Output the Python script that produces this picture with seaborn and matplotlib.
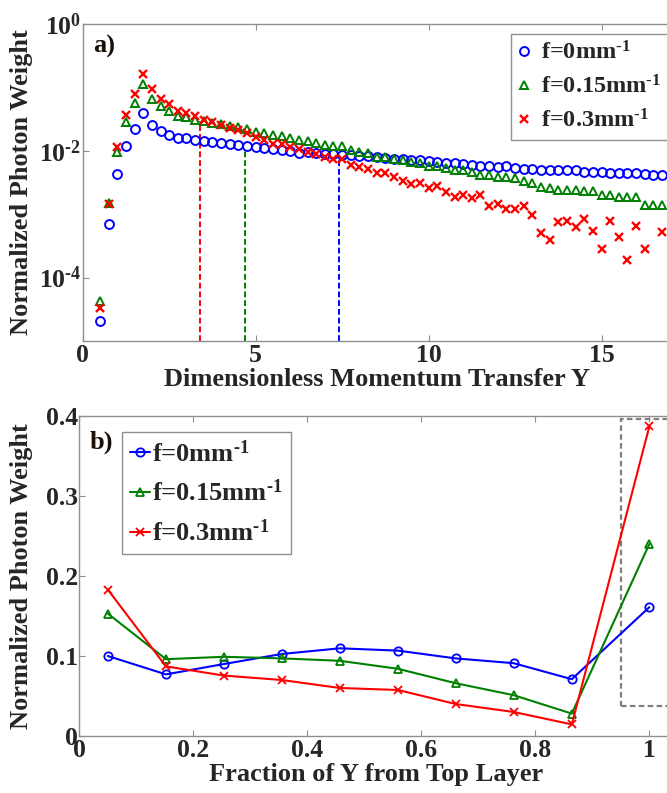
import numpy as np
import matplotlib
matplotlib.use("Agg")
import matplotlib.pyplot as plt
import matplotlib.ticker as mticker
from matplotlib.patches import Rectangle
import seaborn as sns

# ---------------- data ----------------
Y_a = [0.5, 0.75, 1.0, 1.25, 1.5, 1.75, 2.0, 2.25, 2.5, 2.75, 3.0, 3.25, 3.5, 3.75,
       4.0, 4.25, 4.5, 4.75, 5.0, 5.25, 5.5, 5.75, 6.0, 6.25, 6.5, 6.75, 7.0, 7.25,
       7.5, 7.75, 8.0, 8.25, 8.5, 8.75, 9.0, 9.25, 9.5, 9.75, 10.0, 10.25, 10.5, 10.75,
       11.0, 11.25, 11.5, 11.75, 12.0, 12.25, 12.5, 12.75, 13.0, 13.25, 13.5, 13.75,
       14.0, 14.25, 14.5, 14.75, 15.0, 15.25, 15.5, 15.75, 16.0, 16.25, 16.5, 16.75]

w_f0 = [2.1e-5, 7.1e-4, 4.3e-3, 0.012, 0.022, 0.040, 0.0255, 0.0205, 0.0178, 0.016,
        0.0158, 0.015, 0.0141, 0.0137, 0.0131, 0.0128, 0.0122, 0.012, 0.0114, 0.011,
        0.0108, 0.0103, 0.010, 0.0093, 0.0096, 0.0091, 0.0089,
        0.0089, 0.0087, 0.0086, 0.0084, 0.0082, 0.0080, 0.0077, 0.0075, 0.0073, 0.0071,
        0.0071, 0.0068, 0.0067, 0.0064, 0.0064, 0.0061, 0.0060, 0.0058, 0.0057, 0.0055,
        0.0057, 0.0054, 0.0052, 0.0052, 0.0050, 0.0049, 0.0049, 0.0049, 0.0049, 0.0047,
        0.0047, 0.0046, 0.0044, 0.0044, 0.0044, 0.0044, 0.0043, 0.0042, 0.0042]

w_f015 = [4.2e-5, 1.5e-3, 0.0097, 0.029, 0.057, 0.113, 0.066, 0.051, 0.043, 0.036,
          0.034, 0.031, 0.030, 0.027, 0.0265, 0.0246, 0.0235, 0.022, 0.020, 0.0194,
          0.0179, 0.017, 0.0159, 0.0148, 0.0141, 0.0132, 0.0125,
          0.0117, 0.0117, 0.0103, 0.0095, 0.0091, 0.0081, 0.0081, 0.0074, 0.0072, 0.0067,
          0.0065, 0.0058, 0.0058, 0.0054, 0.0050, 0.0049, 0.0047, 0.0042, 0.0041, 0.0039,
          0.0038, 0.0037, 0.0034, 0.0031, 0.0027, 0.0026, 0.0024, 0.0024, 0.0024, 0.0023,
          0.0023, 0.0020, 0.0020, 0.0019, 0.0019, 0.0019, 0.0014, 0.0014, 0.0014]

w_f03 = [3.3e-5, 1.45e-3, 0.0116, 0.037, 0.079, 0.163, 0.093, 0.066, 0.055, 0.043,
         0.039, 0.035, 0.031, 0.028, 0.0255, 0.023, 0.021, 0.019, 0.0167, 0.015,
         0.013, 0.013, 0.0116, 0.0105, 0.0097, 0.0089, 0.0081,
         0.0074, 0.0074, 0.0060, 0.0055, 0.0051, 0.0044, 0.0044, 0.0038, 0.0034, 0.0030,
         0.0031, 0.0026, 0.0028, 0.0022, 0.0019, 0.0020, 0.0018, 0.0020, 0.00135, 0.00145,
         0.0012, 0.0012, 0.00135, 0.00098, 0.00051, 0.00039, 0.00074, 0.00079, 0.00062,
         0.00083, 0.00055, 0.00028, 0.00079, 0.00043, 0.00019, 0.00065, 0.00028, np.nan,
         0.00053]

# mean momentum transfer markers (dashed lines) and the height they reach
mean_Y = [7.42, 4.69, 3.39]
mean_top = [0.0085, 0.0105, 0.030]

frac_b = [0.05, 0.152, 0.254, 0.355, 0.457, 0.559, 0.66, 0.762, 0.864, 1.0]
b_f0 = [0.100, 0.077, 0.090, 0.1025, 0.1096, 0.1067, 0.097, 0.091, 0.071, 0.161]
b_f015 = [0.153, 0.096, 0.099, 0.097, 0.094, 0.084, 0.066, 0.051, 0.028, 0.240]
b_f03 = [0.183, 0.087, 0.0755, 0.070, 0.060, 0.0575, 0.040, 0.030, 0.0145, 0.387]

labels = [r"f=0mm$^{\text{-}1}$", r"f=0.15mm$^{\text{-}1}$", r"f=0.3mm$^{\text{-}1}$"]
colors = ["#0000FF", "#008000", "#FF0000"]
markers = ["o", "^", "x"]

# ---------------- style ----------------
sns.set_style("ticks")
plt.rcParams["font.family"] = ["Liberation Serif", "DejaVu Serif"]
plt.rcParams["font.weight"] = "bold"
plt.rcParams["mathtext.fontset"] = "custom"
plt.rcParams["mathtext.rm"] = "Liberation Serif:bold"
plt.rcParams["mathtext.bf"] = "Liberation Serif:bold"
plt.rcParams["mathtext.it"] = "Liberation Serif:bold:italic"
plt.rcParams["mathtext.default"] = "bf"

SP = "#8f8f8f"
TICK_FS = 18.5
LAB_FS = 19
fig = plt.figure(figsize=(6.67, 7.93), dpi=100)
ax1 = fig.add_axes([0.124, 0.570, 0.8816, 0.3997])
ax2 = fig.add_axes([0.1189, 0.0719, 0.8888, 0.4035])

def style_axes(ax):
    for s in ax.spines.values():
        s.set_color(SP)
        s.set_linewidth(1.0)
    ax.spines["right"].set_visible(False)
    ax.tick_params(direction="in", top=True, right=False, length=4, width=0.8,
                   color=SP, labelsize=TICK_FS)
    ax.tick_params(axis="y", pad=1)
    ax.tick_params(axis="x", pad=2)
    for t in ax.get_xticklabels() + ax.get_yticklabels():
        t.set_fontweight("bold")

def log_fmt(v, p):
    e = int(round(np.log10(v)))
    if e < 0:
        return r"$10^{\text{-}%d}$" % (-e)
    return r"$10^{%d}$" % e

# ---------------- panel a ----------------
series_a = [w_f0, w_f015, w_f03]
for i in range(3):
    ax1.vlines(mean_Y[i], 1e-5, mean_top[i], colors=colors[i], linestyles=(0, (3, 1.5)),
               linewidth=1.4, zorder=1)
for i, w in enumerate(series_a):
    kw = dict(marker=markers[i], linestyle="none", markersize=6.4 if i < 2 else 5.5,
              markeredgewidth=1.4 if i < 2 else 1.7, color=colors[i],
              markeredgecolor=colors[i])
    if i < 2:
        kw["markerfacecolor"] = "none"
    sns.lineplot(x=Y_a, y=w, ax=ax1, estimator=None, label=labels[i], zorder=3, **kw)

ax1.set_yscale("log")
ax1.set_xlim(0, 17)
ax1.set_ylim(1e-5, 1)
ax1.set_yticks([1e-4, 1e-2, 1])
ax1.yaxis.set_minor_locator(mticker.NullLocator())
ax1.yaxis.set_major_formatter(mticker.FuncFormatter(log_fmt))
ax1.set_xticks([0, 5, 10, 15])
ax1.set_xlabel("Dimensionless Momentum Transfer Y", fontsize=LAB_FS, fontweight="bold",
               labelpad=1)
ax1.set_ylabel("Normalized Photon Weight", fontsize=LAB_FS, fontweight="bold")
ax1.yaxis.set_label_coords(-0.085, 0.5)
style_axes(ax1)
ax1.text(0.018, 0.965, "a)", transform=ax1.transAxes, fontsize=19, fontweight="bold",
         va="top", ha="left", color="#1a1208")
leg1 = ax1.legend(loc="upper right", bbox_to_anchor=(0.9965, 0.97), fontsize=17.5,
                  frameon=True, fancybox=False, edgecolor=SP, framealpha=1,
                  handlelength=0.5, handletextpad=0.45, labelspacing=0.45,
                  borderpad=0.3, borderaxespad=0.0)
leg1.get_frame().set_linewidth(1.0)

# ---------------- panel b ----------------
series_b = [b_f0, b_f015, b_f03]
for i, w in enumerate(series_b):
    kw = dict(marker=markers[i], markersize=6, markeredgewidth=1.3,
              color=colors[i], markeredgecolor=colors[i], linewidth=1.5)
    if i < 2:
        kw["markerfacecolor"] = "none"
    sns.lineplot(x=frac_b, y=w, ax=ax2, estimator=None, sort=False, label=labels[i],
                 zorder=3, **kw)

ax2.add_patch(Rectangle((0.951, 0.038), 0.2, 0.358, fill=False, edgecolor="#808080",
                        linestyle=(0, (2.5, 1.5)), linewidth=1.6, zorder=2))
ax2.set_xlim(0, 1.04)
ax2.set_ylim(0, 0.4)
ax2.set_xticks([0, 0.2, 0.4, 0.6, 0.8, 1.0])
ax2.set_xticklabels(["0", "0.2", "0.4", "0.6", "0.8", "1"])
ax2.set_yticks([0, 0.1, 0.2, 0.3, 0.4])
ax2.set_yticklabels(["0", "0.1", "0.2", "0.3", "0.4"])
ax2.set_xlabel("Fraction of Y from Top Layer", fontsize=LAB_FS, fontweight="bold", labelpad=1)
ax2.set_ylabel("Normalized Photon Weight", fontsize=LAB_FS, fontweight="bold")
ax2.yaxis.set_label_coords(-0.078, 0.5)
style_axes(ax2)
ax2.text(0.018, 0.955, "b)", transform=ax2.transAxes, fontsize=19, fontweight="bold",
         va="top", ha="left", color="#1a1208")
leg2 = ax2.legend(loc="upper left", bbox_to_anchor=(0.072, 0.95), fontsize=19,
                  frameon=True, fancybox=False, edgecolor=SP, framealpha=1,
                  handlelength=0.75, handletextpad=0.1, labelspacing=0.5,
                  borderpad=0.3, borderaxespad=0.0)
leg2.get_frame().set_linewidth(1.0)

fig.savefig("out.png", dpi=100)
